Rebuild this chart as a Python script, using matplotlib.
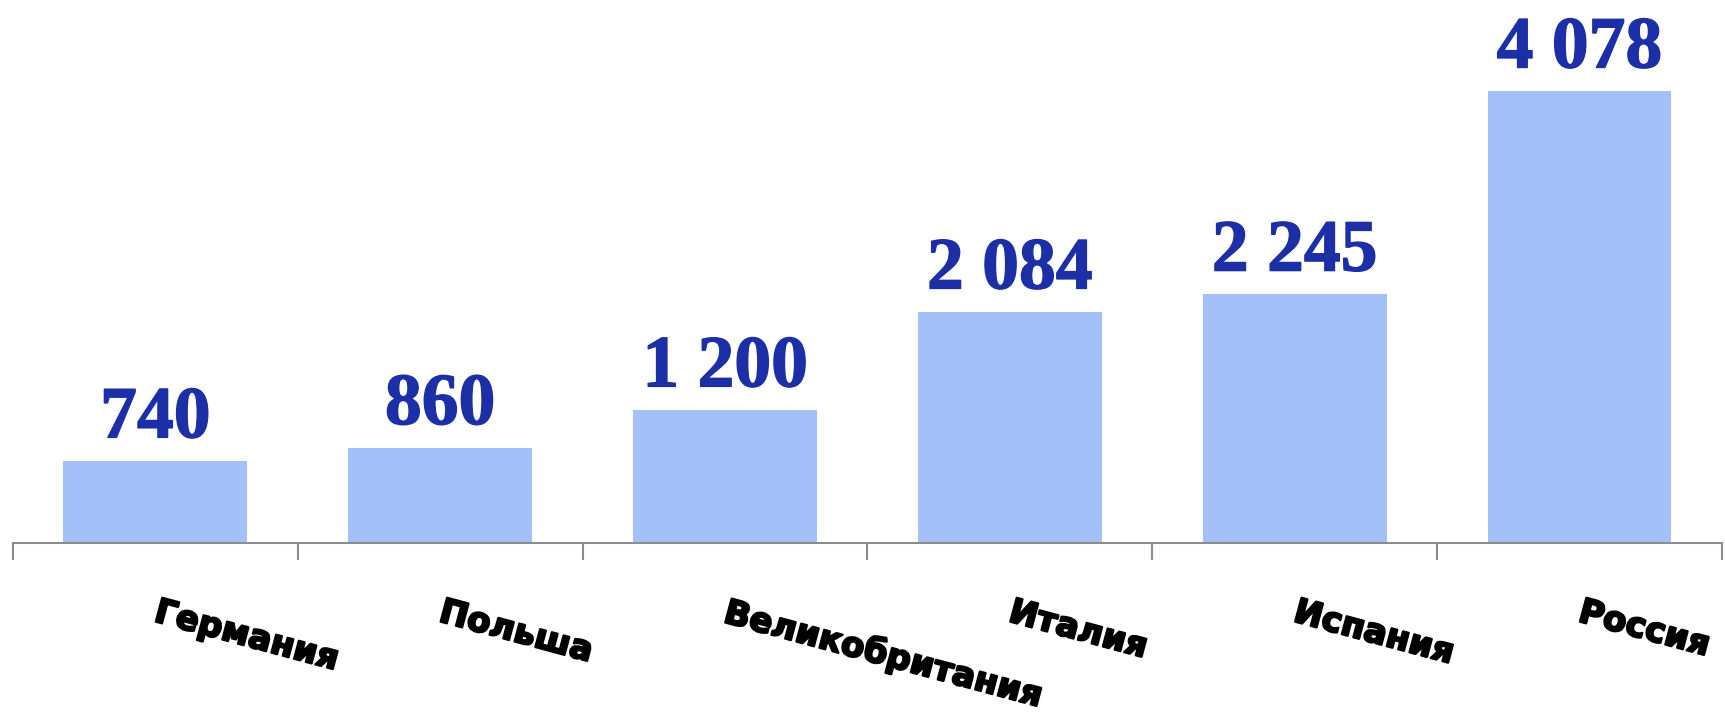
import matplotlib
matplotlib.use("Agg")
import matplotlib.pyplot as plt
import matplotlib.patheffects as pe

countries = ["Германия", "Польша", "Великобритания", "Италия", "Испания", "Россия"]
values = [740, 860, 1200, 2084, 2245, 4078]
value_labels = ["740", "860", "1 200", "2 084", "2 245", "4 078"]

bar_color = "#a3c0f8"
label_color = "#1c2fa6"

fig = plt.figure(figsize=(17.25, 7.14), dpi=100)
ax = fig.add_axes([0.0075, 0.2395, 0.9907, 0.7605])

x = list(range(len(countries)))
bars = ax.bar(x, values, width=0.645, color=bar_color)

ax.set_xlim(-0.5, len(countries) - 0.5)
ax.set_ylim(0, 4900)

# value labels above bars
for xi, v, lab in zip(x, values, value_labels):
    ax.annotate(lab, xy=(xi, v), xytext=(0, 17), textcoords="offset points",
                ha="center", va="baseline", fontsize=53, fontweight="bold",
                family="Liberation Serif", color=label_color,
                path_effects=[pe.withStroke(linewidth=1.0, foreground=label_color)])

# category labels, rotated like the original
for xi, name in zip(x, countries):
    ax.annotate(name, xy=(xi, 0), xycoords=("data", "axes fraction"),
                xytext=(3, -38), textcoords="offset points",
                ha="left", va="top", rotation=-15, rotation_mode="anchor",
                fontsize=24.5, fontweight="bold", family="DejaVu Sans", color="black",
                path_effects=[pe.withStroke(linewidth=1.6, foreground="black")])

# axis: only the bottom line, ticks at category boundaries
for side in ["left", "right", "top"]:
    ax.spines[side].set_visible(False)
ax.spines["bottom"].set_color("#8c8c8c")
ax.spines["bottom"].set_linewidth(1.5)
ax.set_yticks([])
ax.set_xticks([i - 0.5 for i in range(len(countries) + 1)])
ax.set_xticklabels([])
ax.tick_params(axis="x", direction="out", length=12, width=1.5, color="#8c8c8c")

fig.savefig("out.png", dpi=100)
